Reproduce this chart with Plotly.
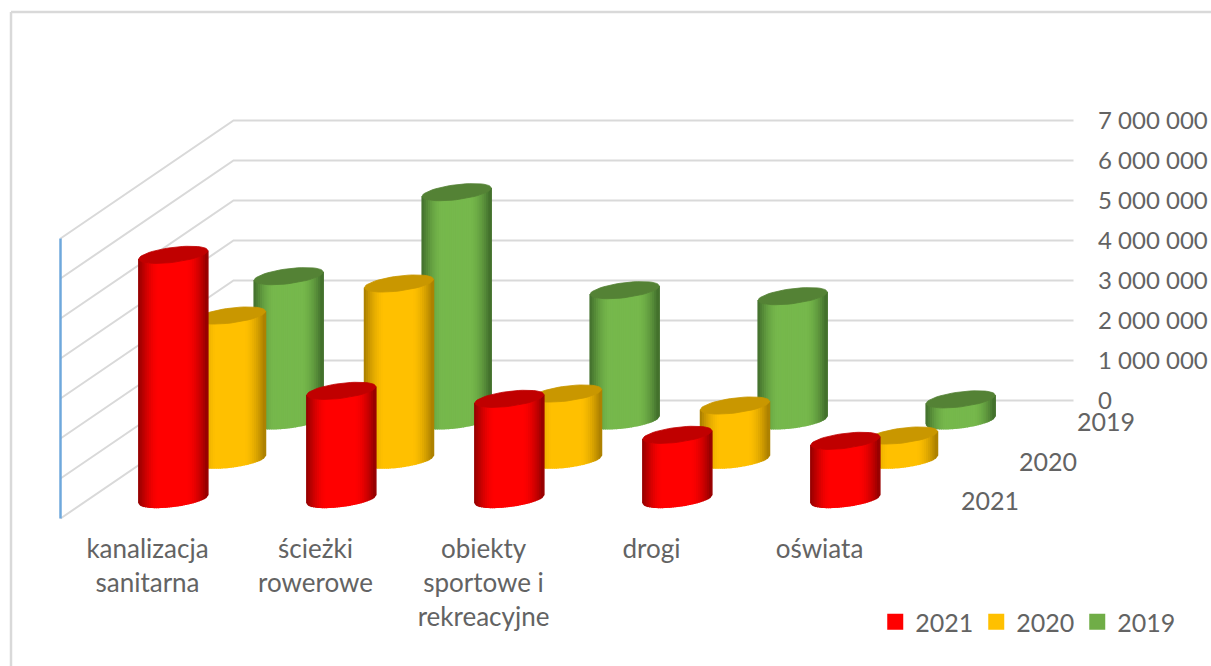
import math
import plotly.graph_objects as go

categories = ["kanalizacja<br>sanitarna", "ścieżki<br>rowerowe", "obiekty<br>sportowe i<br>rekreacyjne", "drogi", "oświata"]
series_names = ["2021", "2020", "2019"]
values_2021 = [6100000, 2700000, 2500000, 1600000, 1450000]
values_2020 = [3600000, 4400000, 1650000, 1350000, 600000]
values_2019 = [3600000, 5700000, 3250000, 3100000, 520000]
tick_values = [0, 1000000, 2000000, 3000000, 4000000, 5000000, 6000000, 7000000]
tick_labels = ["0", "1 000 000", "2 000 000", "3 000 000", "4 000 000", "5 000 000", "6 000 000", "7 000 000"]
series_values = [values_2021, values_2020, values_2019]
side_colors = ["#ff0000", "#ffc000", "#76b84c"]
top_colors = ["#c00000", "#c99700", "#548235"]
edge_colors = ["#8f0000", "#a67c00", "#3f6b2a"]

FONT = "Lato"
TXT = "#636363"
W, H = 1211, 666
PLOT_L, PLOT_R, PLOT_T, PLOT_B = 50, 1075, 110, 530
PX_X = 168.0            # px per category
PX_Y = 40.0 / 1e6       # px per value unit
DX = 57.67 / PX_X       # depth shift per series, category units
DY = 39.33 / PX_Y       # depth shift per series, value units
R = 34.5 / PX_X
RY = 7.5 / PX_Y
SHEAR = 4.2 / PX_Y
STRIPS = 32


def px(c, d):
    return c + d * DX


def py(v, d):
    return v - (3 - d) * DY


def mix(a, b, f):
    ca = [int(a[i:i + 2], 16) for i in (1, 3, 5)]
    cb = [int(b[i:i + 2], 16) for i in (1, 3, 5)]
    return "rgb(%d,%d,%d)" % tuple(round(p + (q - p) * f) for p, q in zip(ca, cb))


fig = go.Figure()

# walls: grid lines on side and back wall
gx, gy = [], []
for v in tick_values:
    gx += [px(0, 0), px(0, 3), px(5, 3), None]
    gy += [py(v, 0), py(v, 3), py(v, 3), None]
fig.add_trace(go.Scatter(x=gx, y=gy, mode="lines", line=dict(color="#d9d9d9", width=2),
                         showlegend=False, hoverinfo="skip"))
fig.add_trace(go.Scatter(x=[px(0, 0), px(0, 0)], y=[py(0, 0), py(tick_values[-1], 0)], mode="lines",
                         line=dict(color="#6fa8dc", width=2.5), showlegend=False, hoverinfo="skip"))

# cylinders, back to front
for s in (2, 1, 0):
    d = s + 0.5
    for c, v in enumerate(series_values[s]):
        cx = px(c + 0.5, d)
        base = py(0, d)
        for k in range(STRIPS):
            u1 = -1 + 2 * k / STRIPS
            u2 = -1 + 2 * (k + 1) / STRIPS
            um = abs((u1 + u2) / 2)
            f = max(0.0, (um - 0.4) / 0.6) ** 1.7
            col = mix(side_colors[s], edge_colors[s], f)
            def off(u):
                return -RY * math.sqrt(max(0, 1 - u * u)) + SHEAR * u
            xs = [cx + R * u1, cx + R * u2, cx + R * u2, cx + R * u1, cx + R * u1]
            ys = [base + off(u1), base + off(u2), base + v + off(u2), base + v + off(u1), base + off(u1)]
            fig.add_trace(go.Scatter(x=xs, y=ys, mode="lines", fill="toself", fillcolor=col,
                                     line=dict(color=col, width=1.5), showlegend=False,
                                     hoverinfo="skip"))
        n = 48
        ex = [cx + R * math.cos(2 * math.pi * i / n) for i in range(n + 1)]
        ey = [base + v + RY * math.sin(2 * math.pi * i / n) + SHEAR * math.cos(2 * math.pi * i / n) for i in range(n + 1)]
        fig.add_trace(go.Scatter(x=ex, y=ey, mode="lines", fill="toself", fillcolor=top_colors[s],
                                 line=dict(color=top_colors[s], width=0.8), showlegend=False,
                                 hoverinfo="skip"))

# legend entries
legend_colors = ["#ff0000", "#ffc000", "#70ad47"]
for s, name in enumerate(series_names):
    fig.add_trace(go.Scatter(x=[None], y=[None], mode="markers", name=name,
                             marker=dict(symbol="square", size=16, color=legend_colors[s])))

# depth axis labels
for s, name in enumerate(series_names):
    fig.add_annotation(x=px(5, s + 0.5), y=py(0, s + 0.5), text=name, showarrow=False, xshift=61, yshift=-1,
                       xanchor="center", yanchor="middle", font=dict(family=FONT, size=25, color=TXT))

# chart frame
pw, ph = PLOT_R - PLOT_L, PLOT_B - PLOT_T
for x0, y0, x1, y1 in [(11, 12, W + 5, 12), (11, 12, 11, H + 5)]:
    fig.add_shape(type="line", xref="paper", yref="paper", x0=(x0 - PLOT_L) / pw, x1=(x1 - PLOT_L) / pw,
                  y0=(PLOT_B - y0) / ph, y1=(PLOT_B - y1) / ph, line=dict(color="#d9d9d9", width=2.5))

fig.update_layout(
    width=W, height=H, paper_bgcolor="white", plot_bgcolor="rgba(0,0,0,0)",
    margin=dict(l=PLOT_L, r=W - PLOT_R, t=PLOT_T, b=H - PLOT_B, autoexpand=False),
    font=dict(family=FONT, size=24, color=TXT),
    xaxis=dict(range=[(PLOT_L - 60.5) / PX_X, (PLOT_R - 60.5) / PX_X], tickmode="array",
               tickvals=[i + 0.5 + 3 / PX_X for i in range(5)],
               ticktext=categories, showgrid=False, zeroline=False, showline=False, ticks="",
               ticklabelstandoff=1, tickangle=0, tickfont=dict(family=FONT, size=26, color=TXT)),
    yaxis=dict(range=[(400.5 - PLOT_B) / PX_Y, (400.5 - PLOT_T) / PX_Y], side="right", tickmode="array",
               tickvals=tick_values, ticktext=tick_labels, showgrid=False, zeroline=False, showline=False,
               ticks="", ticklabelstandoff=22, tickfont=dict(family=FONT, size=24, color=TXT)),
    legend=dict(orientation="h", x=975 / W, xanchor="left", y=1 - 622 / H, yanchor="middle", yref="container",
                bgcolor="rgba(0,0,0,0)", font=dict(family=FONT, size=25, color=TXT),
                itemwidth=30, entrywidth=56, entrywidthmode="pixels", traceorder="normal"),
)

fig.write_html("out.html", config={"displayModeBar": False}, post_script="document.body.style.margin='0';")
